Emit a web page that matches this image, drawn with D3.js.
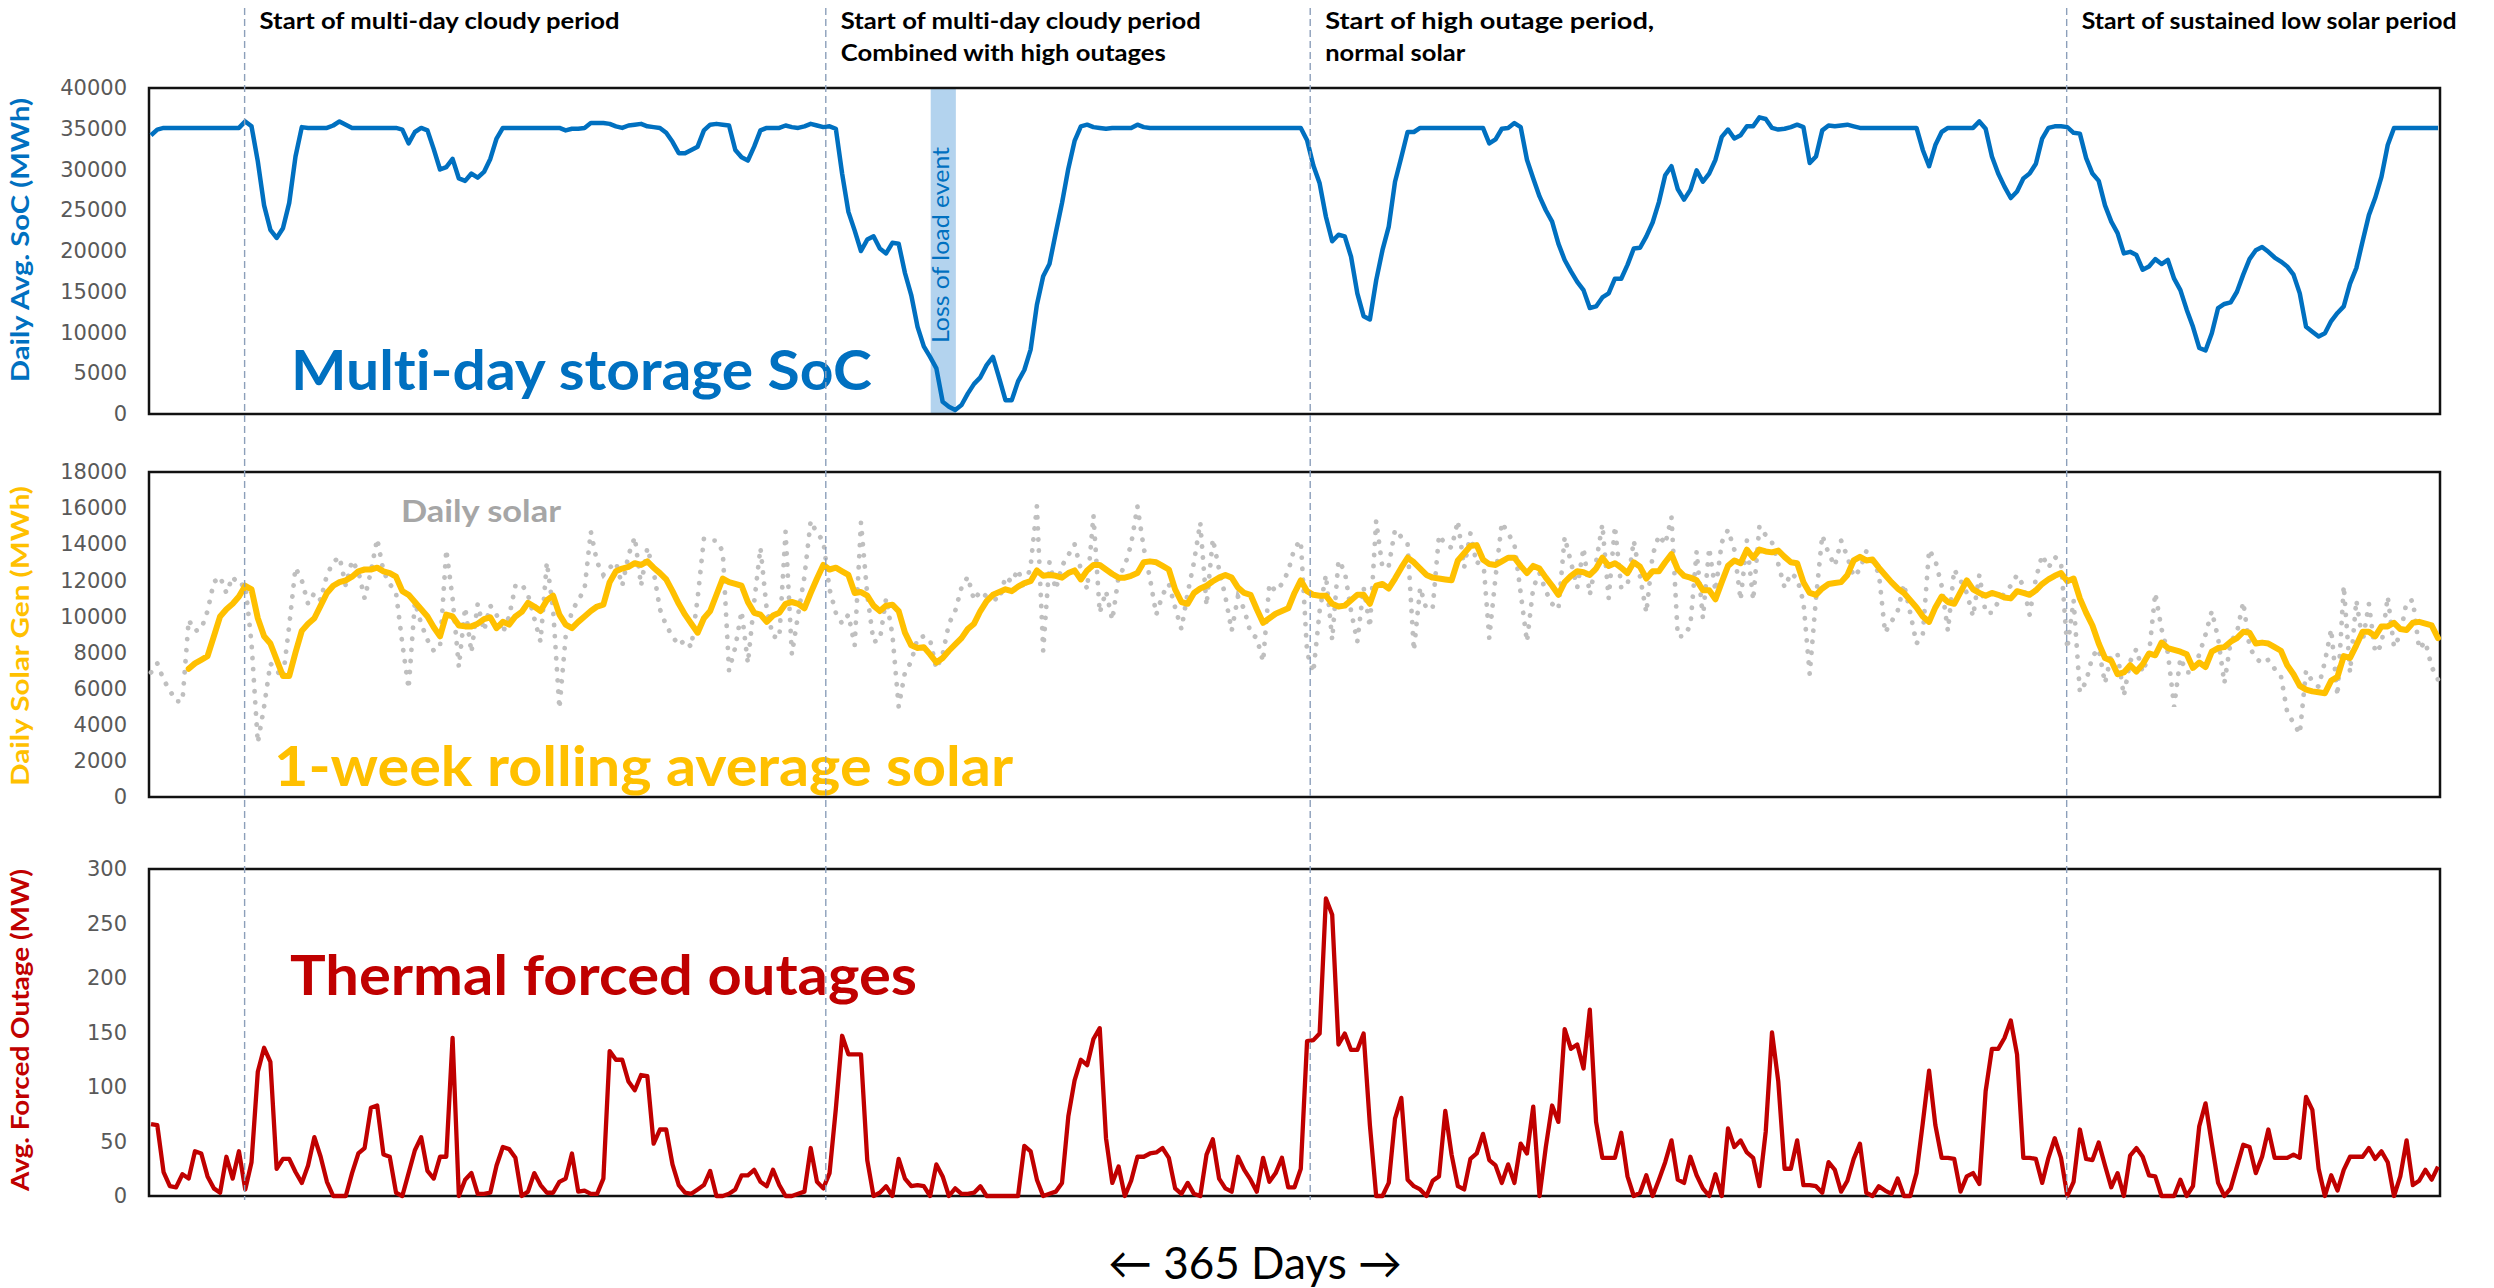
<!DOCTYPE html>
<html>
<head>
<meta charset="utf-8">
<script src="https://cdn.jsdelivr.net/npm/d3@7"></script>
<style>
  html, body { margin: 0; padding: 0; background: #ffffff; }
  svg { display: block; }
  svg text { font-variant-ligatures: none; font-feature-settings: "liga" 0, "clig" 0; }
</style>
</head>
<body>
<svg id="chart" width="2494" height="1288"></svg>
<script>
// ---------------- data (one value per day, 365 days) ----------------

// Daily average state of charge of the multi-day storage, MWh
const socMWh = [
  34200,34900,35100,35100,35100,35100,35100,35100,35100,35100,
  35100,35100,35100,35100,35100,35900,35300,31000,25600,22600,
  21600,22800,25900,31600,35200,35100,35100,35100,35100,35400,
  35900,35500,35100,35100,35100,35100,35100,35100,35100,35100,
  34900,33200,34600,35100,34800,32500,30000,30300,31300,28900,
  28600,29500,29000,29700,31300,33800,35100,35100,35100,35100,
  35100,35100,35100,35100,35100,35100,34800,35000,35000,35100,
  35700,35700,35700,35600,35300,35100,35400,35500,35600,35300,
  35200,35100,34500,33400,32000,32000,32400,32800,34800,35500,
  35600,35500,35400,32400,31500,31100,32800,34800,35100,35100,
  35100,35400,35200,35100,35300,35600,35400,35200,35300,35000,
  29500,24800,22500,20000,21400,21800,20300,19700,21000,20900,
  17300,14600,10700,8300,7000,5600,1500,900,500,1100,
  2500,3700,4500,6000,7000,4400,1700,1700,4000,5400,
  7900,13400,16900,18400,22200,25900,30100,33500,35300,35500,
  35200,35100,35000,35100,35100,35100,35100,35500,35200,35100,
  35100,35100,35100,35100,35100,35100,35100,35100,35100,35100,
  35100,35100,35100,35100,35100,35100,35100,35100,35100,35100,
  35100,35100,35100,35100,33600,30500,28300,24200,21200,22000,
  21800,19300,14800,12000,11600,16400,20100,23000,28500,31500,
  34600,34600,35100,35100,35100,35100,35100,35100,35100,35100,
  35100,35100,35100,33200,33700,35000,35100,35700,35200,31200,
  28900,26700,25000,23600,20900,18900,17500,16200,15200,13000,
  13200,14300,14800,16600,16600,18300,20300,20400,21800,23500,
  26000,29300,30400,27600,26300,27500,29900,28500,29500,31200,
  34000,34900,33800,34200,35300,35300,36400,36200,35100,34900,
  35000,35200,35500,35200,30800,31600,34800,35400,35300,35400,
  35500,35300,35100,35100,35100,35100,35100,35100,35100,35100,
  35100,35100,32400,30400,33000,34600,35100,35100,35100,35100,
  35100,35900,35000,31600,29500,27900,26500,27300,28900,29500,
  30700,33800,35100,35300,35300,35200,34500,34400,31400,29500,
  28600,25600,23600,22200,19700,19900,19500,17700,18100,19000,
  18400,18900,16600,15200,12800,10700,8100,7800,9900,13000,
  13500,13700,15000,17100,19000,20100,20500,19900,19200,18700,
  18100,17100,14800,10700,10100,9500,9900,11400,12400,13200,
  16000,17900,21200,24400,26500,29100,33000,35100,35100,35100,
  35100,35100,35100,35100,35100
];

// Daily solar generation, MWh
const solarDailyMWh = [
  6900,7400,6500,5900,5300,5300,9800,9200,9300,10300,
  11900,12200,11300,12200,11700,11800,8500,3000,5000,7400,
  7000,6600,9500,12700,12000,10700,11300,10900,12300,13000,
  13300,11700,13100,12500,11000,12500,14300,12500,11800,11300,
  8500,6000,10800,9600,8700,8100,8300,13700,11000,7200,
  10500,8000,10700,9200,10600,10100,9100,10000,11700,11800,
  11200,9900,8600,13000,10400,4900,8900,10300,10900,11500,
  14700,13000,12300,12700,13000,11700,13400,14400,11700,13800,
  12500,10400,9500,8900,8400,8700,8300,11000,14300,14200,
  14200,13600,7000,8300,10300,7400,10800,13800,10400,8900,
  8800,14700,7900,10100,12200,15300,14600,14200,11500,10200,
  9600,10100,8400,15200,11200,8600,8700,11000,9000,5000,
  6900,7500,8800,8900,8700,7100,7900,9600,10300,11600,
  12200,10900,11400,11100,11000,10900,12200,11900,12600,11500,
  12800,16100,8100,13000,11500,12800,13400,14000,12600,11500,
  15600,10200,11400,9800,12200,12800,14000,16100,13800,12100,
  10100,11200,11800,10500,9300,11300,13000,15200,10600,14300,
  12600,11100,9200,11100,10400,9100,8800,7500,11800,11400,
  11800,12500,13800,14200,8000,6900,10300,12300,8700,13100,
  12500,10300,8600,11600,9400,15300,12700,12800,14800,14400,
  14000,8100,11600,10400,10500,14500,14000,13800,15300,12700,
  14600,12900,13300,8800,12200,15200,14600,14000,11300,8600,
  11600,12400,11400,10700,10400,14400,13000,11600,13800,11200,
  13000,15100,11000,15000,11600,11700,14200,12200,10200,13400,
  14500,14000,15500,8900,8900,9500,13600,9900,13800,11400,
  14100,14800,13700,10900,14200,10900,15000,14500,14100,12900,
  11600,12400,12100,10800,6800,11000,14500,13500,12800,14200,
  13300,12200,12600,13600,13000,12400,9100,9700,10300,11800,
  10200,8500,9000,13700,13100,11700,9200,12600,12000,11300,
  10000,12300,10200,10200,10800,11300,11700,12300,11700,10100,
  12100,13400,12700,13300,13000,8200,10900,5800,6400,7800,
  8200,6300,7900,7900,5600,7500,8200,6900,7900,11300,
  9300,8000,5000,7700,6900,6900,7900,9000,10300,8800,
  6300,8600,9100,10800,8300,7700,7400,7600,7100,6700,
  4700,4100,3500,7000,6400,6100,7500,9300,5600,11700,
  6900,10900,8600,10700,8000,8400,11100,8300,9000,10800,
  10900,8200,8600,7200,6500
];

// 1-week rolling average of daily solar, MWh (first full week ends on day 6)
const solarWeekAvgMWh = [
  null,null,null,null,null,null,7100,7400,7600,7800,
  8900,10000,10400,10700,11100,11700,11500,9900,8900,8500,
  7600,6700,6700,8000,9200,9600,9900,10600,11300,11700,
  11900,12000,12200,12500,12600,12600,12700,12500,12400,12200,
  11400,11200,10800,10400,10000,9400,8900,10100,10000,9500,
  9450,9450,9600,9850,9950,9350,9700,9550,10000,10250,
  10750,10550,10300,10900,11150,10100,9550,9350,9700,10000,
  10300,10550,10650,11900,12500,12650,12750,12950,12850,13050,
  12700,12400,12050,11400,10700,10100,9600,9100,9900,10300,
  11200,12100,11900,11800,11700,10800,10200,10100,9700,10050,
  10200,10700,10800,10700,10450,11300,12100,12850,12600,12700,
  12500,12300,11300,11350,11150,10600,10300,10600,10650,10300,
  9100,8400,8250,8300,7900,7450,7700,8100,8450,8800,
  9300,9600,10300,10850,11200,11350,11500,11400,11650,11850,
  11950,12550,12250,12300,12250,12150,12400,12550,12050,12550,
  12850,12850,12600,12350,12150,12150,12250,12400,13000,13050,
  13000,12800,12600,11500,10800,10700,11300,11550,11700,11950,
  12150,12300,12150,11600,11300,11200,10400,9650,9900,10150,
  10300,10450,11300,12000,11400,11200,11150,11150,10700,10550,
  10600,10900,11200,11200,10700,11700,11800,11550,12100,12700,
  13250,13000,12650,12300,12150,12100,12050,12000,13100,13500,
  13900,13950,13150,12900,12850,13050,13250,13250,12800,12400,
  12800,12650,12150,11700,11200,11900,12250,12500,12450,12300,
  12650,13250,12800,12950,12700,12400,13000,12750,12100,12500,
  12500,13000,13450,12600,12250,12150,12000,11450,11450,10950,
  11900,12800,13100,12950,13700,13250,13700,13600,13550,13650,
  13300,13000,12950,11900,11300,11200,11550,11800,11850,11900,
  12300,13100,13300,13100,13150,12700,12300,11900,11550,11300,
  10900,10500,10000,9700,10500,11100,10800,10700,11350,12000,
  11500,11300,11150,11300,11200,11050,11000,11400,11300,11200,
  11450,11800,12050,12250,12400,11950,12100,11000,10200,9500,
  8500,7700,7550,6800,6900,7300,6950,7350,7950,7850,
  8550,8250,8150,8050,7900,7150,7450,7200,8050,8250,
  8300,8600,8800,9150,9100,8500,8550,8500,8300,8100,
  7300,6800,6150,5950,5850,5800,5750,6450,6650,7800,
  7700,8400,9150,9150,8900,9450,9450,9650,9300,9250,
  9650,9700,9600,9500,8800
];

// Daily average thermal forced outage, MW
const outageMW = [
  66,65,22,9,8,20,16,41,39,18,
  7,3,36,16,41,6,31,114,136,123,
  25,34,34,22,12,28,54,36,13,0,
  0,0,21,39,44,81,83,38,36,3,
  0,21,42,54,23,16,36,36,145,0,
  15,21,2,2,3,28,45,43,35,0,
  4,21,10,3,3,13,16,39,4,5,
  2,2,16,133,125,125,105,97,111,110,
  48,61,61,29,10,3,2,6,10,23,
  0,0,2,6,19,19,24,13,9,24,
  10,0,0,2,4,44,13,7,21,80,
  147,130,130,130,33,0,3,9,0,34,
  16,9,10,9,0,29,18,0,7,2,
  2,3,9,0,0,0,0,0,0,46,
  41,15,0,2,4,12,73,106,125,120,
  144,154,53,12,27,0,14,36,36,39,
  40,44,35,7,2,12,2,0,38,52,
  16,7,4,36,24,15,4,35,13,21,
  35,8,8,25,142,143,149,273,258,139,
  149,134,134,149,65,0,0,12,71,90,
  15,9,6,0,14,18,78,38,9,6,
  34,39,57,33,28,12,29,12,48,39,
  82,0,45,83,68,153,135,139,117,171,
  68,35,35,35,58,18,0,3,19,0,
  15,31,51,15,12,36,19,7,0,20,
  0,62,45,51,40,35,9,59,150,105,
  25,25,51,10,10,9,3,31,24,4,
  14,34,48,3,0,9,5,2,16,0,
  0,21,67,115,65,35,35,34,4,18,
  21,11,96,135,135,145,161,130,35,35,
  34,12,35,53,35,0,13,61,34,33,
  49,28,8,21,0,37,44,36,19,18,
  0,0,0,15,0,9,64,85,48,12,
  0,7,27,47,45,21,36,61,35,35,
  35,38,35,91,79,25,0,19,5,24,
  36,36,36,44,34,41,31,0,18,51,
  10,14,24,15,27
];

// Axis tick values
const socTicks = [0, 5000, 10000, 15000, 20000, 25000, 30000, 35000, 40000];
const solarTicks = [0, 2000, 4000, 6000, 8000, 10000, 12000, 14000, 16000, 18000];
const outageTicks = [0, 50, 100, 150, 200, 250, 300];

// Marked events (day positions) and their captions
const eventDays = [14.9, 107.4, 184.5, 304.9];
const eventCaptions = [
  ["Start of multi-day cloudy period"],
  ["Start of multi-day cloudy period", "Combined with high outages"],
  ["Start of high outage period,", "normal solar"],
  ["Start of sustained low solar period"]
];

// Loss of load event window (days)
const lossOfLoadDays = [124.1, 128.1];
const lossOfLoadLabel = "Loss of load event";

// Titles
const axisTitles = ["Daily Avg. SoC (MWh)", "Daily Solar Gen (MWh)", "Avg. Forced Outage (MW)"];
const panelTitles = ["Multi-day storage SoC", "1-week rolling average solar", "Thermal forced outages"];
const dailySolarLabel = "Daily solar";
const xAxisLabel = "\u2190 365 Days \u2192";

// ---------------- drawing ----------------
const svg = d3.select("#chart");
const W = 2494, H = 1288;
svg.append("rect").attr("width", W).attr("height", H).attr("fill", "#ffffff");

const FONT = "Lato, 'Open Sans', 'DejaVu Sans', sans-serif";
const BLUE = "#0070C0", GOLD = "#FFC000", RED = "#C00000", GREY_DOTS = "#BFBFBF";

const frameLeft = 149, frameRight = 2440;
const x = d3.scaleLinear().domain([0, socMWh.length - 1]).range([151, 2438]);

const panels = [
  { top: 88,  bottom: 414,  domain: [0, 40000], ticks: socTicks,    color: BLUE, title: axisTitles[0], titleY: 240,  titleLen: 284 },
  { top: 472, bottom: 797,  domain: [0, 18000], ticks: solarTicks,  color: GOLD, title: axisTitles[1], titleY: 636,  titleLen: 300 },
  { top: 869, bottom: 1196, domain: [0, 300],   ticks: outageTicks, color: RED,  title: axisTitles[2], titleY: 1030, titleLen: 322 }
];
panels.forEach(p => {
  p.y = d3.scaleLinear().domain(p.domain).range([p.bottom, p.top]);
});

// Loss of load shading (behind the SoC line)
const pSoc = panels[0], pSolar = panels[1], pOut = panels[2];
svg.append("rect")
  .attr("x", x(lossOfLoadDays[0]))
  .attr("y", pSoc.top)
  .attr("width", x(lossOfLoadDays[1]) - x(lossOfLoadDays[0]))
  .attr("height", pSoc.bottom - pSoc.top)
  .attr("fill", "#B3D3EE");

svg.append("text")
  .attr("transform", `translate(${x(lossOfLoadDays[0]) + 18},343) rotate(-90)`)
  .attr("font-family", FONT)
  .attr("font-size", 23)
  .attr("fill", BLUE)
  .attr("textLength", 196)
  .attr("lengthAdjust", "spacingAndGlyphs")
  .text(lossOfLoadLabel);

// Panel frames, y axes and rotated axis titles
panels.forEach(p => {
  svg.append("rect")
    .attr("x", frameLeft).attr("y", p.top)
    .attr("width", frameRight - frameLeft).attr("height", p.bottom - p.top)
    .attr("fill", "none").attr("stroke", "#111111").attr("stroke-width", 2.5);

  const axis = d3.axisLeft(p.y)
    .tickValues(p.ticks)
    .tickSize(0)
    .tickPadding(22)
    .tickFormat(d3.format("d"));
  const g = svg.append("g").attr("transform", `translate(${frameLeft},0)`).call(axis);
  g.select(".domain").remove();
  g.selectAll("text")
    .attr("font-family", "'DejaVu Sans', Verdana, sans-serif")
    .attr("font-size", 21)
    .attr("fill", "#595959");

  svg.append("text")
    .attr("transform", `translate(29,${p.titleY}) rotate(-90)`)
    .attr("text-anchor", "middle")
    .attr("font-family", FONT)
    .attr("font-weight", 700)
    .attr("font-size", 25)
    .attr("fill", p.color)
    .attr("textLength", p.titleLen)
    .attr("lengthAdjust", "spacingAndGlyphs")
    .text(p.title);
});

// Panel titles
svg.append("text")
  .attr("x", 291).attr("y", 390)
  .attr("font-family", FONT).attr("font-weight", 700).attr("font-size", 56)
  .attr("fill", BLUE).attr("textLength", 581).attr("lengthAdjust", "spacingAndGlyphs")
  .text(panelTitles[0]);
svg.append("text")
  .attr("x", 274).attr("y", 786)
  .attr("font-family", FONT).attr("font-weight", 700).attr("font-size", 56)
  .attr("fill", GOLD).attr("textLength", 739).attr("lengthAdjust", "spacingAndGlyphs")
  .text(panelTitles[1]);
svg.append("text")
  .attr("x", 290).attr("y", 995)
  .attr("font-family", FONT).attr("font-weight", 700).attr("font-size", 56)
  .attr("fill", RED).attr("textLength", 627).attr("lengthAdjust", "spacingAndGlyphs")
  .text(panelTitles[2]);
svg.append("text")
  .attr("x", 401).attr("y", 522)
  .attr("font-family", FONT).attr("font-weight", 700).attr("font-size", 30)
  .attr("fill", "#A6A6A6").attr("textLength", 160).attr("lengthAdjust", "spacingAndGlyphs")
  .text(dailySolarLabel);

// SoC line
svg.append("path")
  .datum(socMWh)
  .attr("d", d3.line().x((d, i) => x(i)).y(d => pSoc.y(d)))
  .attr("fill", "none").attr("stroke", BLUE).attr("stroke-width", 4.5)
  .attr("stroke-linejoin", "round");

// Daily solar (dotted) and weekly rolling average
svg.append("path")
  .datum(solarDailyMWh)
  .attr("d", d3.line().x((d, i) => x(i)).y(d => pSolar.y(d)))
  .attr("fill", "none").attr("stroke", GREY_DOTS).attr("stroke-width", 4.8)
  .attr("stroke-linecap", "round").attr("stroke-dasharray", "0.1 11");

svg.append("path")
  .datum(solarWeekAvgMWh)
  .attr("d", d3.line().defined(d => d !== null).x((d, i) => x(i)).y(d => pSolar.y(d)))
  .attr("fill", "none").attr("stroke", GOLD).attr("stroke-width", 6)
  .attr("stroke-linejoin", "round").attr("stroke-linecap", "round");

// Forced outages
svg.append("path")
  .datum(outageMW)
  .attr("d", d3.line().x((d, i) => x(i)).y(d => pOut.y(d)))
  .attr("fill", "none").attr("stroke", RED).attr("stroke-width", 4.3)
  .attr("stroke-linejoin", "round");

// Event markers and captions
const captionWidths = [[360], [360, 325], [329, 140], [375]];
eventDays.forEach((day, i) => {
  const ex = x(day);
  svg.append("line")
    .attr("x1", ex).attr("x2", ex).attr("y1", 8).attr("y2", 1200)
    .attr("stroke", "#8C9FBA").attr("stroke-width", 1.4)
    .attr("stroke-dasharray", "7 4");
  eventCaptions[i].forEach((line, j) => {
    svg.append("text")
      .attr("x", ex + 15).attr("y", 29 + j * 32)
      .attr("font-family", FONT).attr("font-weight", 700).attr("font-size", 22)
      .attr("fill", "#000000")
      .attr("textLength", captionWidths[i][j]).attr("lengthAdjust", "spacingAndGlyphs")
      .text(line);
  });
});

// Time axis label
svg.append("text")
  .attr("x", 1255).attr("y", 1279)
  .attr("text-anchor", "middle")
  .attr("font-family", FONT).attr("font-size", 44)
  .attr("fill", "#000000")
  .text(xAxisLabel);
</script>
</body>
</html>
